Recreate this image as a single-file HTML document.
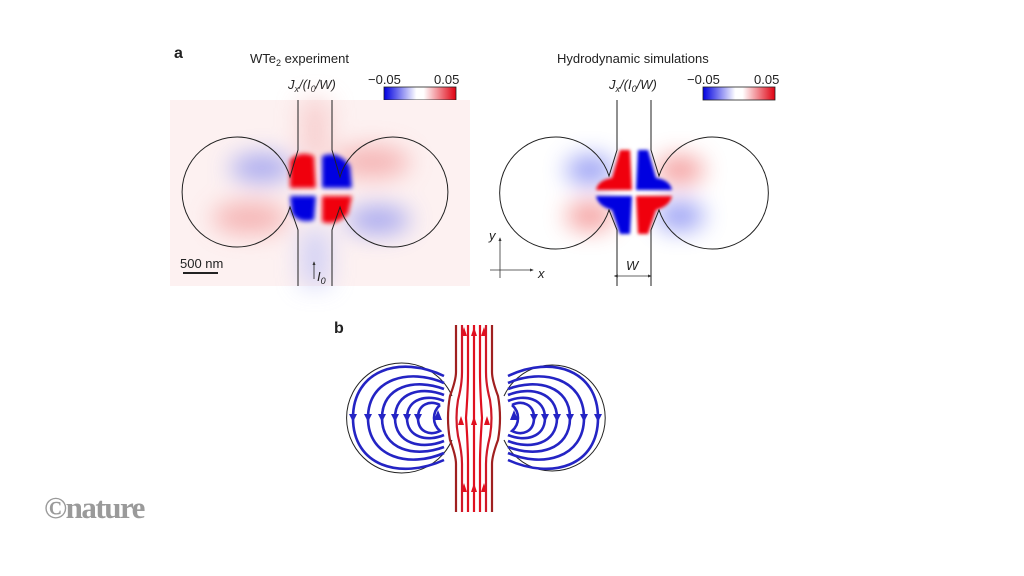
<!DOCTYPE html>
<html><head><meta charset="utf-8"><style>
html,body{margin:0;padding:0;background:#fff;}
svg{display:block;font-family:"Liberation Sans",sans-serif;}
</style></head><body>
<svg width="1024" height="576" viewBox="0 0 1024 576" xmlns="http://www.w3.org/2000/svg">
<defs>
<filter id="b1" x="-50%" y="-50%" width="200%" height="200%"><feGaussianBlur stdDeviation="2.5"/></filter>
<filter id="b2" x="-50%" y="-50%" width="200%" height="200%"><feGaussianBlur stdDeviation="12"/></filter>
<filter id="b3" x="-50%" y="-50%" width="200%" height="200%"><feGaussianBlur stdDeviation="1.5"/></filter>
<linearGradient id="cb" x1="0" x2="1"><stop offset="0" stop-color="#0000e0"/><stop offset="0.45" stop-color="#fff"/><stop offset="0.55" stop-color="#fff"/><stop offset="1" stop-color="#e00010"/></linearGradient>
<marker id="ak" viewBox="0 0 10 10" refX="8" refY="5" markerWidth="5" markerHeight="5" orient="auto"><path d="M0,1L10,5L0,9z" fill="#333"/></marker>
<marker id="ak2" viewBox="0 0 10 10" refX="2" refY="5" markerWidth="5" markerHeight="5" orient="auto-start-reverse"><path d="M0,1L10,5L0,9z" fill="#333"/></marker>
</defs>

<text x="174" y="58" font-size="16" font-weight="bold" fill="#222">a</text>
<text x="250" y="63" font-size="13" fill="#222">WTe<tspan font-size="9" dy="3">2</tspan><tspan dy="-3"> experiment</tspan></text>
<text x="288" y="89" font-size="13" font-style="italic" fill="#222">J<tspan font-size="9" dy="3">x</tspan><tspan dy="-3">/(I</tspan><tspan font-size="9" dy="3">0</tspan><tspan dy="-3">/W)</tspan></text>
<text x="368" y="84" font-size="13" fill="#222">−0.05</text>
<text x="434" y="84" font-size="13" fill="#222">0.05</text>
<rect x="384" y="87" width="72" height="13" fill="url(#cb)" stroke="#222" stroke-width="0.8"/>

<rect x="170" y="100" width="300" height="186" fill="#fdf1f1"/>
<g filter="url(#b2)" opacity="0.75">
<ellipse cx="262" cy="168" rx="32" ry="14" fill="#8a90f0"/>
<ellipse cx="250" cy="218" rx="38" ry="16" fill="#f3a0a0"/>
<ellipse cx="372" cy="162" rx="38" ry="16" fill="#f3a0a0"/>
<ellipse cx="378" cy="220" rx="32" ry="14" fill="#8a90f0"/>
<rect x="300" y="100" width="30" height="60" fill="#f6c6c6"/>
<rect x="300" y="230" width="30" height="56" fill="#c6c8f6"/>
</g>
<g filter="url(#b1)">
<path d="M290,160 Q300,150 314,156 L316,188 L290,188 Z" fill="#f00010"/>
<path d="M322,156 Q338,150 350,166 L352,188 L322,188 Z" fill="#0000e0"/>
<path d="M290,196 L316,196 L314,220 Q300,224 292,214 Z" fill="#0000e0"/>
<path d="M322,196 L352,196 L348,214 Q336,226 322,222 Z" fill="#f00010"/>
</g>
<g fill="none" stroke="#222" stroke-width="1">
<path d="M298,100 V150 L290,177 A55,55 0 1 0 290,207 L298,230 V286"/>
<path d="M332,100 V150 L340,177 A55,55 0 1 1 340,207 L332,230 V286"/>
</g>
<line x1="183" y1="273" x2="218" y2="273" stroke="#222" stroke-width="2"/>
<text x="180" y="268" font-size="13" fill="#222">500 nm</text>
<line x1="314" y1="279" x2="314" y2="262" stroke="#222" stroke-width="0.8" marker-end="url(#ak)"/>
<text x="317" y="281" font-size="13" font-style="italic" fill="#222">I<tspan font-size="9" dy="3">0</tspan></text>

<text x="557" y="63" font-size="13" fill="#222">Hydrodynamic simulations</text>
<text x="609" y="89" font-size="13" font-style="italic" fill="#222">J<tspan font-size="9" dy="3">x</tspan><tspan dy="-3">/(I</tspan><tspan font-size="9" dy="3">0</tspan><tspan dy="-3">/W)</tspan></text>
<text x="687" y="84" font-size="13" fill="#222">−0.05</text>
<text x="754" y="84" font-size="13" fill="#222">0.05</text>
<rect x="703" y="87" width="72" height="13" fill="url(#cb)" stroke="#222" stroke-width="0.8"/>
<g filter="url(#b2)" opacity="0.75">
<ellipse cx="590" cy="170" rx="24" ry="14" fill="#7078f0"/>
<ellipse cx="590" cy="216" rx="24" ry="14" fill="#f07878"/>
<ellipse cx="680" cy="170" rx="24" ry="14" fill="#f07878"/>
<ellipse cx="680" cy="216" rx="24" ry="14" fill="#7078f0"/>
</g>
<g filter="url(#b3)">
<path d="M620,150 L630,150 L632,190 L596,190 Q598,180 612,178 Z" fill="#f00010"/>
<path d="M638,150 L648,150 L656,178 Q670,180 672,190 L636,190 Z" fill="#0000e0"/>
<path d="M596,196 L632,196 L630,234 L620,234 L612,210 Q598,206 596,196 Z" fill="#0000e0"/>
<path d="M636,196 L672,196 Q670,206 656,210 L648,234 L638,234 Z" fill="#f00010"/>
</g>
<g fill="none" stroke="#222" stroke-width="1">
<path d="M617,100 V150 L609,176 A56,56 0 1 0 609,210 L617,230 V286"/>
<path d="M651,100 V150 L659,176 A56,56 0 1 1 659,210 L651,230 V286"/>
</g>
<line x1="617" y1="276" x2="651" y2="276" stroke="#333" stroke-width="0.8" marker-start="url(#ak2)" marker-end="url(#ak)"/>
<text x="626" y="270" font-size="13" font-style="italic" fill="#222">W</text>
<line x1="500" y1="278" x2="500" y2="238" stroke="#333" stroke-width="0.8" marker-end="url(#ak)"/>
<line x1="490" y1="270" x2="533" y2="270" stroke="#333" stroke-width="0.8" marker-end="url(#ak)"/>
<text x="489" y="240" font-size="13" font-style="italic" fill="#222">y</text>
<text x="538" y="278" font-size="13" font-style="italic" fill="#222">x</text>

<text x="334" y="333" font-size="16" font-weight="bold" fill="#222">b</text>
<g fill="none" stroke="#222" stroke-width="1">
<path d="M452,396 A55,55 0 1 0 452,440"/>
<path d="M504,396 A53,53 0 1 1 504,440"/>
</g>
<g fill="none" stroke="#2424c4" stroke-width="2.6">
<path d="M444,376 C400,355 353,370 353,418 C353,466 400,480 444,460"/>
<path d="M444,383 C410,368 368,378 368,418 C368,458 410,468 444,453"/>
<path d="M444,389 C415,378 382,386 382,418 C382,450 415,458 444,447"/>
<path d="M444,395 C422,386 395,392 395,418 C395,444 422,450 444,441"/>
<path d="M444,401 C428,394 407,398 407,418 C407,438 428,442 444,435"/>
<path d="M440,405 C430,400 418,404 418,418 C418,432 430,436 440,431 C432,424 432,412 440,405"/>
</g>
<g fill="#2424c4">
<path d="M349,414 l8,0 l-4,8z"/><path d="M364,414 l8,0 l-4,8z"/><path d="M378,414 l8,0 l-4,8z"/>
<path d="M391,414 l8,0 l-4,8z"/><path d="M403,414 l8,0 l-4,8z"/><path d="M414,414 l8,0 l-4,8z"/>
<path d="M438,410 l4,10 l-8,0z"/>
</g>
<g fill="none" stroke="#2424c4" stroke-width="2.6">
<path d="M508,376 C552,355 598,370 598,418 C598,466 552,480 508,460"/>
<path d="M508,383 C542,368 584,378 584,418 C584,458 542,468 508,453"/>
<path d="M508,389 C537,378 570,386 570,418 C570,450 537,458 508,447"/>
<path d="M508,395 C530,386 557,392 557,418 C557,444 530,450 508,441"/>
<path d="M508,401 C524,394 545,398 545,418 C545,438 524,442 508,435"/>
<path d="M512,405 C522,400 534,404 534,418 C534,432 522,436 512,431 C520,424 520,412 512,405"/>
</g>
<g fill="#2424c4">
<path d="M594,414 l8,0 l-4,8z"/><path d="M580,414 l8,0 l-4,8z"/><path d="M566,414 l8,0 l-4,8z"/>
<path d="M553,414 l8,0 l-4,8z"/><path d="M541,414 l8,0 l-4,8z"/><path d="M530,414 l8,0 l-4,8z"/>
<path d="M514,410 l4,10 l-8,0z"/>
</g>
<g fill="none" stroke-width="2.2">
<path d="M456,325 V372 Q456,380 450,396 Q446,418 450,440 Q456,456 456,464 V512" stroke="#a02020"/>
<path d="M492,325 V372 Q492,380 498,396 Q502,418 498,440 Q492,456 492,464 V512" stroke="#a02020"/>
<path d="M462,325 V372 Q462,385 458,400 Q455,418 458,436 Q462,452 462,464 V512" stroke="#d01828"/>
<path d="M486,325 V372 Q486,385 490,400 Q493,418 490,436 Q486,452 486,464 V512" stroke="#d01828"/>
<path d="M468,325 V372 Q468,390 466,418 Q468,446 468,464 V512" stroke="#e01020"/>
<path d="M480,325 V372 Q480,390 482,418 Q480,446 480,464 V512" stroke="#e01020"/>
<path d="M474,325 V512" stroke="#e01020"/>
</g>
<g fill="#e01020">
<path d="M461,336 l3,-9 l3,9z"/><path d="M471,336 l3,-9 l3,9z"/><path d="M481,336 l3,-9 l3,9z"/>
<path d="M458,425 l3,-9 l3,9z"/><path d="M471,425 l3,-9 l3,9z"/><path d="M484,425 l3,-9 l3,9z"/>
<path d="M461,492 l3,-9 l3,9z"/><path d="M471,492 l3,-9 l3,9z"/><path d="M481,492 l3,-9 l3,9z"/>
</g>

<text x="44" y="518" font-size="31" font-family="Liberation Serif,serif" font-weight="bold" fill="#9a9a9a" letter-spacing="-1.5">©nature</text>
</svg>
</body></html>
